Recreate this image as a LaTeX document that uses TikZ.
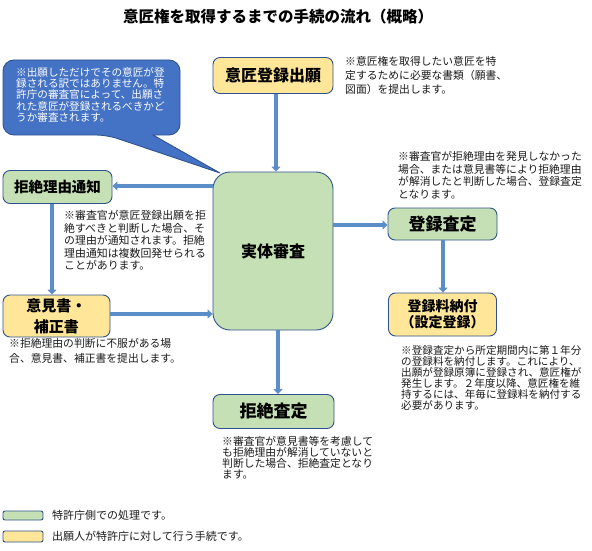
\documentclass[tikz,border=0pt]{standalone}
\usepackage{fontspec}
\setmainfont{Noto Sans CJK JP}
\usetikzlibrary{arrows.meta}
\definecolor{bordr}{HTML}{2F528F}
\definecolor{grn}{HTML}{C5E0B4}
\definecolor{ylw}{HTML}{FFE699}
\definecolor{arr}{HTML}{5B8DC8}
\definecolor{calloutc}{HTML}{4472C4}
\tikzset{
  box/.style={draw=bordr, line width=0.9pt, rounded corners=7pt, inner sep=0pt, align=center, font=\bfseries},
  gbox/.style={box, fill=grn},
  ybox/.style={box, fill=ylw},
  flow/.style={draw=arr, line width=3.5pt, -{Triangle[length=5pt,width=9pt]}},
  note/.style={anchor=north west, inner sep=0pt, align=left, text=black!90},
  leg/.style={draw=bordr, line width=0.9pt, rounded corners=2pt}
}
\begin{document}
\begin{tikzpicture}[x=1pt,y=-1pt]
\useasboundingbox (0,0) rectangle (592,551);
% title
\node[font=\fontsize{15.5}{18}\selectfont\bfseries] (title) at (278,17) {意匠権を取得するまでの手続の流れ（概略）};

% callout
\draw[fill=calloutc, draw=bordr, line width=0.9pt] (107,135) -- (220,173) -- (153,135) [rounded corners=11pt] -- (180,135) -- (180,60) -- (3,60) -- (3,135) -- cycle;
\node[note, text=white, font=\fontsize{10.6}{11.3}\selectfont] (cnote) at (16,67) {※出願しただけでその意匠が登\\録される訳ではありません。特\\許庁の審査官によって、出願さ\\れた意匠が登録されるべきかど\\うか審査されます。};

% boxes
\node[ybox, minimum width=120pt, minimum height=36pt, font=\fontsize{16}{18}\selectfont\bfseries] (app) at (273,75.5) {意匠登録出願};
\node[gbox, rounded corners=17pt, minimum width=120pt, minimum height=158pt, font=\fontsize{16}{18}\selectfont\bfseries] (exam) at (273,251) {実体審査};
\node[gbox, minimum width=109pt, minimum height=33pt, font=\fontsize{14.5}{17}\selectfont\bfseries] (notice) at (57.5,187) {拒絶理由通知};
\node[ybox, minimum width=107pt, minimum height=42pt, font=\fontsize{15}{21}\selectfont\bfseries] (opin) at (56.5,316) {意見書・\\補正書};
\node[gbox, minimum width=109pt, minimum height=32pt, font=\fontsize{17}{19}\selectfont\bfseries] (grant) at (442.5,224) {登録査定};
\node[ybox, minimum width=108pt, minimum height=43pt, font=\fontsize{14}{16}\selectfont\bfseries] (fee) at (442.5,314.5) {登録料納付\\（設定登録）};
\node[gbox, minimum width=121pt, minimum height=34pt, font=\fontsize{17}{19}\selectfont\bfseries] (rej) at (273.5,411.5) {拒絶査定};

% arrows
\draw[flow] (app.south -| 276,0) -- (exam.north -| 276,0);
\draw[flow] (exam.west |- 0,186) -- (notice.east |- 0,186);
\draw[flow] (notice.south -| 52,0) -- (opin.north -| 52,0);
\draw[flow] (opin.east |- 0,314) -- (exam.west |- 0,314);
\draw[flow] (exam.east |- 0,225) -- (grant.west |- 0,225);
\draw[flow] (grant.south -| 443,0) -- (fee.north -| 443,0);
\draw[flow] (exam.south -| 278,0) -- (rej.north -| 278,0);

% notes
\node[note, font=\fontsize{10.8}{14}\selectfont] (n1) at (345,56) {※意匠権を取得したい意匠を特\\定するために必要な書類（願書、\\図面）を提出します。};
\node[note, font=\fontsize{10.8}{12.8}\selectfont] (n2) at (398,151) {※審査官が拒絶理由を発見しなかった\\場合、または意見書等により拒絶理由\\が解消したと判断した場合、登録査定\\となります。};
\node[note, font=\fontsize{10.9}{12.6}\selectfont] (n3) at (64,210) {※審査官が意匠登録出願を拒\\絶すべきと判断した場合、そ\\の理由が通知されます。拒絶\\理由通知は複数回発せられる\\ことがあります。};
\node[note, font=\fontsize{10.8}{15}\selectfont] (n4) at (9,338) {※拒絶理由の判断に不服がある場\\合、意見書、補正書を提出します。};
\node[note, font=\fontsize{10.6}{11.1}\selectfont] (n5) at (401,345) {※登録査定から所定期間内に第１年分\\の登録料を納付します。これにより、\\出願が登録原簿に登録され、意匠権が\\発生します。２年度以降、意匠権を維\\持するには、年毎に登録料を納付する\\必要があります。};
\node[note, font=\fontsize{10.8}{10.9}\selectfont] (n6) at (222,436) {※審査官が意見書等を考慮して\\も拒絶理由が解消していないと\\判断した場合、拒絶査定となり\\ます。};

% legend
\path[leg, fill=grn] (3,511) rectangle (43,520);
\node[note, anchor=west, font=\fontsize{11}{13}\selectfont] (l1) at (52,515.5) {特許庁側での処理です。};
\path[leg, fill=ylw] (3,531) rectangle (43,542);
\node[note, anchor=west, font=\fontsize{11}{13}\selectfont] (l2) at (52,536.5) {出願人が特許庁に対して行う手続です。};
\end{tikzpicture}
\end{document}
